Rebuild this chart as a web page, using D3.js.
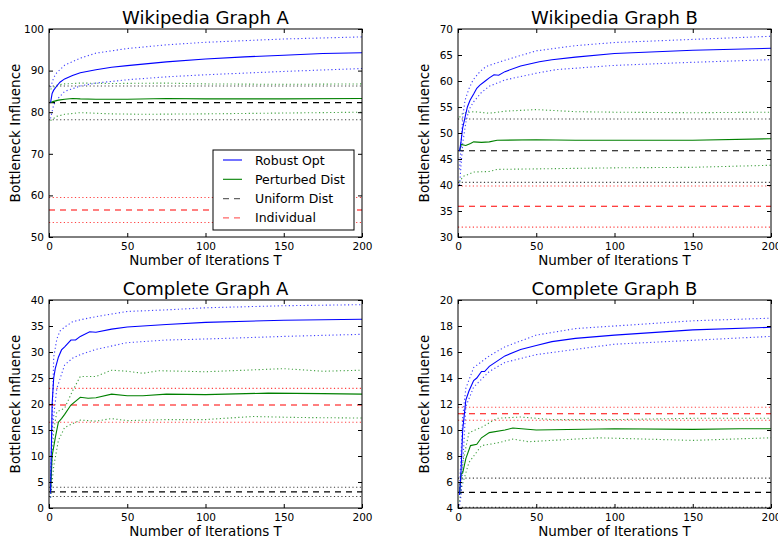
<!DOCTYPE html>
<html>
<head>
<meta charset="utf-8">
<script src="https://cdn.jsdelivr.net/npm/d3@7"></script>
<style>
body { margin: 0; background: white; }
svg { font-family: "DejaVu Sans", sans-serif; }
</style>
</head>
<body>
<script>
// [T, value] samples

// Wikipedia Graph A
const wikiARobust = [[1,82.3],[2,84.5],[3,85.3],[5,86.3],[7,87.2],[10,88],[15,88.8],[20,89.5],[30,90.2],[40,90.8],[50,91.2],[75,92.1],[100,92.8],[125,93.3],[150,93.7],[175,94.1],[200,94.3]];
const wikiARobustHi = [[1,86],[3,88.3],[5,89.5],[10,91.3],[20,93],[30,94.2],[50,95.3],[75,96.2],[100,96.8],[150,97.6],[200,98.1]];
const wikiARobustLo = [[1,78.5],[3,81.8],[5,83],[10,85],[20,86.3],[30,87],[50,87.8],[75,88.5],[100,89],[150,89.8],[200,90.5]];
const wikiAPert = [[1,82.3],[3,82.6],[6,82.9],[10,83.1],[15,83.3],[20,83.2],[30,83.1],[50,83.1],[75,83.3],[100,83.2],[150,83.2],[200,83.3]];
const wikiAPertHi = [[1,85.5],[5,86.5],[10,86.8],[20,87],[40,86.9],[75,87],[100,86.8],[150,86.7],[200,86.8]];
const wikiAPertLo = [[1,78],[5,79],[10,79.5],[20,79.9],[40,79.6],[60,79.5],[100,79.6],[150,79.8],[200,80]];
const wikiAUniform = [82.3, 86.3, 78.2];
const wikiAIndividual = [56.5, 59.5, 53.5];

// Wikipedia Graph B
const wikiBRobust = [[1,46.5],[2,48.5],[3,51],[4.5,53],[6,55],[7.7,56.3],[10,57.5],[12,58.6],[14,59.2],[17,59.9],[20,60.6],[23,61.2],[26,61.1],[30,61.8],[40,62.9],[52,63.7],[60,64.1],[75,64.6],[100,65.3],[150,65.9],[200,66.3]];
const wikiBRobustHi = [[1,43],[3,53],[4.5,56.3],[7,58.5],[9.6,60.2],[14,61.8],[18,62.8],[30,64],[50,65.8],[75,66.8],[100,67.4],[150,68],[200,68.6]];
const wikiBRobustLo = [[1,40],[3,48],[5,52],[7,54.5],[10,56],[15,57.8],[20,59],[30,60.2],[50,61.5],[63,62.2],[100,63],[150,63.6],[200,64.1]];
const wikiBPert = [[1,46.5],[2,47.8],[5,47.6],[8,48],[10,48.3],[15,48.2],[20,48.3],[25,48.6],[50,48.7],[75,48.6],[100,48.6],[150,48.6],[200,48.9]];
const wikiBPertHi = [[1,53],[3,53.8],[10,54.1],[20,53.8],[30,54.2],[50,54.5],[75,54.1],[100,54],[150,53.9],[200,54]];
const wikiBPertLo = [[1,40.5],[3,41.6],[10,42.5],[20,42.6],[25,43],[50,43.1],[75,43.2],[100,43.3],[150,43.4],[200,43.8]];
const wikiBUniform = [46.6, 52.7, 40.5];
const wikiBIndividual = [35.9, 39.8, 31.9];

// Complete Graph A
const compARobust = [[1,3],[2,20],[3,25],[4,26.8],[6,29],[8,30.4],[10,31],[14,32.3],[17,32.3],[20,33],[26,33.9],[30,33.8],[40,34.4],[50,34.8],[75,35.3],[100,35.7],[150,36.1],[200,36.3]];
const compARobustHi = [[1,5],[3,29],[5,32.5],[7,34],[10,34.8],[15,35.8],[20,36.2],[30,36.8],[50,37.8],[75,38.1],[100,38.5],[150,38.9],[200,39.1]];
const compARobustLo = [[1,2],[2,15],[5,23],[10,27.5],[15,28.8],[20,29.5],[30,30.5],[50,31.8],[75,32.3],[100,32.5],[150,33],[200,33.4]];
const compAPert = [[1,3],[2,10],[4,13.5],[6,16.5],[8,17.2],[10,18],[14,19.8],[20,21.3],[25,21.1],[30,21.2],[40,21.9],[50,21.6],[60,21.6],[75,21.9],[100,21.8],[140,22.1],[175,22],[200,21.9]];
const compAPertHi = [[1,4],[3,15],[5,18.5],[10,19.2],[15,22.5],[20,25.3],[30,25.3],[40,26.5],[50,26.3],[60,25.9],[70,26.4],[100,26.2],[150,26.8],[175,26.3],[200,26.5]];
const compAPertLo = [[1,2],[3,8],[6,13],[10,15.5],[20,16.9],[30,16.7],[40,17.2],[50,16.8],[75,17],[100,17],[130,17.6],[160,17.4],[200,17.3]];
const compAUniform = [3.1, 4, 2.2];
const compAIndividual = [19.8, 23, 16.5];

// Complete Graph B
const compBRobust = [[1,5],[2,7],[3,10],[5,12.3],[7,13],[10,13.8],[12,14],[15,14.5],[17,14.5],[20,14.9],[25,15.3],[30,15.7],[40,16.2],[50,16.5],[60,16.8],[75,17.05],[100,17.3],[150,17.7],[200,17.9]];
const compBRobustHi = [[1,5.5],[3,11],[5,13.2],[10,14.8],[20,15.7],[30,16.4],[50,17.3],[75,17.8],[100,18],[150,18.4],[200,18.6]];
const compBRobustLo = [[1,4.2],[2,5],[5,11.8],[10,13.3],[20,14.5],[30,15.2],[50,15.8],[75,16.2],[100,16.6],[150,16.9],[200,17.2]];
const compBPert = [[1,5.1],[2,6.6],[3,6.7],[5,7.8],[8,8.8],[12,8.9],[15,9.4],[20,9.8],[30,10],[35,10.15],[50,10],[100,10.1],[150,10.05],[180,10.1],[200,10.1]];
const compBPertHi = [[1,5.5],[3,7.5],[7,9.8],[15,10.2],[25,10.9],[40,11],[60,10.8],[100,10.8],[150,10.9],[200,10.9]];
const compBPertLo = [[1,4.5],[2,5.5],[7,7.5],[15,8.8],[25,9],[35,9.3],[45,9.1],[90,9.4],[150,9.2],[200,9.4]];
const compBUniform = [5.2, 6.3, 4.05];
const compBIndividual = [11.25, 11.75, 10.75];

const xTicks = [0, 50, 100, 150, 200];
const legendLabels = ["Robust Opt", "Perturbed Dist", "Uniform Dist", "Individual"];

const BLUE = "#0000ff";
const GREEN = "#008000";
const BLACK = "#000000";
const RED = "#ff0000";

const panels = [
	{ title: "Wikipedia Graph A", x0: 49, y0: 29, yDomain: [50, 100], yTicks: d3.range(50, 101, 10),
		robust: [wikiARobust, wikiARobustHi, wikiARobustLo], pert: [wikiAPert, wikiAPertHi, wikiAPertLo],
		uniform: wikiAUniform, individual: wikiAIndividual, legend: true },
	{ title: "Wikipedia Graph B", x0: 458, y0: 29, yDomain: [30, 70], yTicks: d3.range(30, 71, 5),
		robust: [wikiBRobust, wikiBRobustHi, wikiBRobustLo], pert: [wikiBPert, wikiBPertHi, wikiBPertLo],
		uniform: wikiBUniform, individual: wikiBIndividual },
	{ title: "Complete Graph A", x0: 49, y0: 300, yDomain: [0, 40], yTicks: d3.range(0, 41, 5),
		robust: [compARobust, compARobustHi, compARobustLo], pert: [compAPert, compAPertHi, compAPertLo],
		uniform: compAUniform, individual: compAIndividual },
	{ title: "Complete Graph B", x0: 458, y0: 300, yDomain: [4, 20], yTicks: d3.range(4, 21, 2),
		robust: [compBRobust, compBRobustHi, compBRobustLo], pert: [compBPert, compBPertHi, compBPertLo],
		uniform: compBUniform, individual: compBIndividual }
];

const W = 313, H = 208;

const svg = d3.select("body").append("svg")
	.attr("width", 778)
	.attr("height", 539);

panels.forEach((p, i) => {
	const g = svg.append("g").attr("transform", `translate(${p.x0},${p.y0})`);
	const x = d3.scaleLinear().domain([0, 200]).range([0, W]);
	const y = d3.scaleLinear().domain(p.yDomain).range([H, 0]);

	g.append("clipPath").attr("id", "clip" + i)
		.append("rect").attr("width", W).attr("height", H);

	const plot = g.append("g").attr("clip-path", `url(#clip${i})`);
	const line = d3.line().x(d => x(d[0])).y(d => y(d[1]));

	const drawCurve = (data, color, dotted) => {
		plot.append("path")
			.attr("d", line(data))
			.attr("fill", "none")
			.attr("stroke", color)
			.attr("stroke-width", dotted ? 1.1 : 1.1)
			.attr("stroke-opacity", dotted ? 0.75 : 1)
			.attr("stroke-dasharray", dotted ? "1.2,2.5" : null);
	};
	const drawFlat = (v, color, dashed) => {
		plot.append("line")
			.attr("x1", x(0)).attr("x2", x(200))
			.attr("y1", y(v)).attr("y2", y(v))
			.attr("stroke", color)
			.attr("stroke-width", 1.1)
			.attr("stroke-opacity", dashed ? 1 : 0.75)
			.attr("stroke-dasharray", dashed ? "6,5" : "1.2,2.5");
	};

	drawFlat(p.individual[1], RED, false);
	drawFlat(p.individual[2], RED, false);
	drawFlat(p.uniform[1], BLACK, false);
	drawFlat(p.uniform[2], BLACK, false);
	drawCurve(p.pert[1], GREEN, true);
	drawCurve(p.pert[2], GREEN, true);
	drawCurve(p.robust[1], BLUE, true);
	drawCurve(p.robust[2], BLUE, true);
	drawFlat(p.individual[0], RED, true);
	drawFlat(p.uniform[0], BLACK, true);
	drawCurve(p.pert[0], GREEN, false);
	drawCurve(p.robust[0], BLUE, false);

	// axes, ticks inward on all four sides
	const tickLen = 4;
	g.append("g").attr("transform", `translate(0,${H})`)
		.call(d3.axisBottom(x).tickValues(xTicks).tickSizeInner(-tickLen).tickSizeOuter(0).tickPadding(6));
	g.append("g")
		.call(d3.axisTop(x).tickValues(xTicks).tickSizeInner(-tickLen).tickSizeOuter(0).tickFormat(""));
	g.append("g")
		.call(d3.axisLeft(y).tickValues(p.yTicks).tickSizeInner(-tickLen).tickSizeOuter(0).tickPadding(5));
	g.append("g").attr("transform", `translate(${W},0)`)
		.call(d3.axisRight(y).tickValues(p.yTicks).tickSizeInner(-tickLen).tickSizeOuter(0).tickFormat(""));
	g.selectAll(".domain").remove();
	g.selectAll(".tick text")
		.attr("font-family", "DejaVu Sans, sans-serif")
		.attr("font-size", 10.5)
		.attr("fill", "#000");
	g.selectAll(".tick line").attr("stroke", "#000");

	g.append("rect")
		.attr("width", W).attr("height", H)
		.attr("fill", "none").attr("stroke", "#000").attr("stroke-width", 1);

	g.append("text")
		.attr("x", W / 2).attr("y", -5)
		.attr("text-anchor", "middle")
		.attr("font-size", 18)
		.text(p.title);
	g.append("text")
		.attr("x", W / 2).attr("y", H + 28)
		.attr("text-anchor", "middle")
		.attr("font-size", 13.5)
		.text("Number of Iterations T");
	g.append("text")
		.attr("transform", `translate(-29,${H / 2}) rotate(-90)`)
		.attr("text-anchor", "middle")
		.attr("font-size", 13.5)
		.text("Bottleneck Influence");

	if (p.legend) {
		const lg = g.append("g").attr("transform", `translate(${213 - p.x0},${150 - p.y0})`);
		lg.append("rect")
			.attr("width", 141).attr("height", 80)
			.attr("fill", "white").attr("stroke", "#000").attr("stroke-width", 1);
		const styles = [
			{ color: BLUE, dash: null },
			{ color: GREEN, dash: null },
			{ color: BLACK, dash: "6,5" },
			{ color: RED, dash: "6,5" }
		];
		legendLabels.forEach((label, k) => {
			const ly = 10 + k * 19.3;
			lg.append("line")
				.attr("x1", 10).attr("x2", 29)
				.attr("y1", ly).attr("y2", ly)
				.attr("stroke", styles[k].color)
				.attr("stroke-opacity", styles[k].dash ? 0.6 : 1)
				.attr("stroke-width", 1.1)
				.attr("stroke-dasharray", styles[k].dash);
			lg.append("text")
				.attr("x", 42).attr("y", ly + 4.5)
				.attr("font-size", 12.5)
				.text(label);
		});
	}
});
</script>
</body>
</html>
